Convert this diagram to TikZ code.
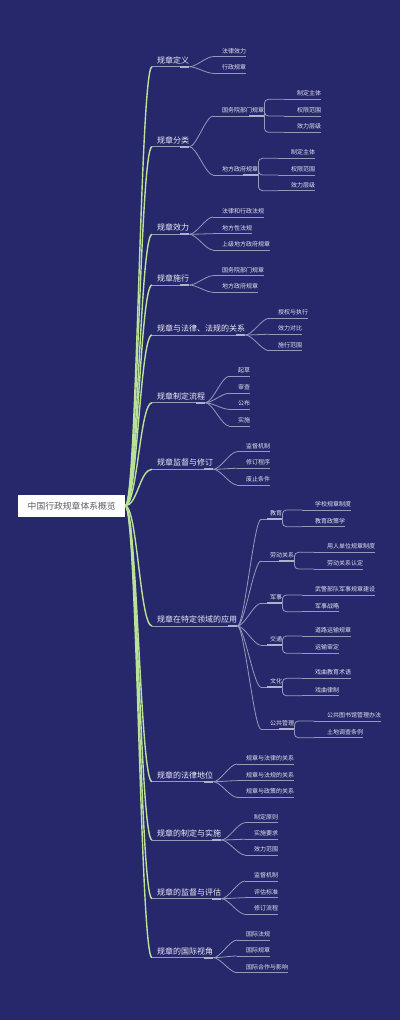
\documentclass[tikz,border=0pt]{standalone}
\usepackage{fontspec}
\setmainfont{Noto Sans CJK SC}
\definecolor{bg}{RGB}{39,40,107}
\definecolor{green1}{RGB}{185,226,152}
\definecolor{lgrey}{RGB}{150,153,188}
\definecolor{tgrey}{RGB}{175,177,200}
\definecolor{txtA}{RGB}{236,236,246}
\definecolor{txtB}{RGB}{226,226,240}
\definecolor{roottxt}{RGB}{90,90,100}
\tikzset{
  rootbox/.style={draw=none, fill=white, minimum width=106.7pt, minimum height=21.7pt, inner sep=0pt, text=roottxt, font=\fontsize{8.8}{10}\selectfont},
  lone/.style={anchor=south west, inner xsep=0pt, inner ysep=3.5pt, text depth=0pt, text=txtA, font=\fontsize{8}{9}\selectfont},
  ltwo/.style={anchor=south west, inner xsep=0pt, inner ysep=3.2pt, text depth=0pt, text=txtB, font=\fontsize{6}{7}\selectfont},
  lonelink/.style={draw=green1, line width=1.4pt},
  link/.style={draw=lgrey, line width=0.8pt},
  uline/.style={draw=lgrey, line width=0.8pt},
  thickseg/.style={draw=tgrey, line width=2pt},
}
\newcommand\Lone[3]{%
  \node[lone] (#1) at (152,#2) {\hspace{5pt}#3\hspace{9pt}};
  \draw[lonelink] (root.east) .. controls +(12,0) and +(-12,0) .. (#1.south west);
  \draw[uline] (#1.south west) -- (#1.south east);
  \draw[thickseg] ([xshift=-9pt]#1.south east) -- (#1.south east);
}
\newcommand\Ltwo[5]{%
  \node[ltwo] (#2) at (#3,#4) {\hspace{9pt}#5\hspace{1pt}};
  \draw[link] (#1.south east) .. controls +(7,0) and +(-7,0) .. (#2.south west);
  \draw[uline] (#2.south west) -- (#2.south east);
}
\newcommand\LtwoP[5]{%
  \node[ltwo] (#2) at (#3,#4) {\hspace{9pt}#5\hspace{16pt}};
  \draw[link] (#1.south east) .. controls +(7,0) and +(-7,0) .. (#2.south west);
  \draw[uline] (#2.south west) -- (#2.south east);
  \draw[thickseg] ([xshift=-15pt]#2.south east) -- (#2.south east);
}
\newcommand\Lthree[5]{%
  \node[ltwo] (#2) at (#3,#4) {\hspace{13pt}#5\hspace{1pt}};
  \draw[link, rounded corners=4pt] (#1.south east) |- (#2.south west);
  \draw[uline] (#2.south west) -- (#2.south east);
}
\begin{document}
\begin{tikzpicture}[x=1pt,y=-1pt]
\useasboundingbox (0,0) rectangle (400,1020);
\fill[bg] (0,0) rectangle (400,1020);
\node[rootbox] (root) at (71.7,505.8) {中国行政规章体系概览};

\Lone{n1}{66.7}{规章定义}
\Lone{n2}{146.7}{规章分类}
\Lone{n3}{234.3}{规章效力}
\Lone{n4}{285}{规章施行}
\Lone{n5}{335}{规章与法律、法规的关系}
\Lone{n6}{402.7}{规章制定流程}
\Lone{n7}{469.3}{规章监督与修订}
\Lone{n8}{626}{规章在特定领域的应用}
\Lone{n9}{781.7}{规章的法律地位}
\Lone{n10}{840}{规章的制定与实施}
\Lone{n11}{898.7}{规章的监督与评估}
\Lone{n12}{957.7}{规章的国际视角}

\Ltwo{n1}{n1a}{213}{56.7}{法律效力}
\Ltwo{n1}{n1b}{213}{73.3}{行政规章}

\LtwoP{n2}{n2a}{213}{116}{国务院部门规章}
\LtwoP{n2}{n2b}{213}{175}{地方政府规章}
\Lthree{n2a}{n2a1}{284}{99.3}{制定主体}
\Lthree{n2a}{n2a2}{284}{116}{权限范围}
\Lthree{n2a}{n2a3}{284}{132.3}{效力层级}
\Lthree{n2b}{n2b1}{278}{158.3}{制定主体}
\Lthree{n2b}{n2b2}{278}{175}{权限范围}
\Lthree{n2b}{n2b3}{278}{190.7}{效力层级}

\Ltwo{n3}{n3a}{213}{217}{法律和行政法规}
\Ltwo{n3}{n3b}{213}{233.7}{地方性法规}
\Ltwo{n3}{n3c}{213}{250}{上级地方政府规章}

\Ltwo{n4}{n4a}{213}{275.7}{国务院部门规章}
\Ltwo{n4}{n4b}{213}{292.3}{地方政府规章}

\Ltwo{n5}{n5a}{269}{318.3}{授权与执行}
\Ltwo{n5}{n5b}{269}{334.3}{效力对比}
\Ltwo{n5}{n5c}{269}{350.7}{施行范围}

\Ltwo{n6}{n6a}{229}{376.3}{起草}
\Ltwo{n6}{n6b}{229}{393.3}{审查}
\Ltwo{n6}{n6c}{229}{409.3}{公布}
\Ltwo{n6}{n6d}{229}{426}{实施}

\Ltwo{n7}{n7a}{237}{451.7}{监督机制}
\Ltwo{n7}{n7b}{237}{468.3}{修订程序}
\Ltwo{n7}{n7c}{237}{485}{废止条件}

\LtwoP{n8}{n8a}{261}{519.3}{教育}
\LtwoP{n8}{n8b}{261}{561}{劳动关系}
\LtwoP{n8}{n8c}{261}{603.3}{军事}
\LtwoP{n8}{n8d}{261}{645.3}{交通}
\LtwoP{n8}{n8e}{261}{687.3}{文化}
\LtwoP{n8}{n8f}{261}{729.3}{公共管理}
\Lthree{n8a}{n8a1}{302}{510}{学校规章制度}
\Lthree{n8a}{n8a2}{302}{526.7}{教育政策学}
\Lthree{n8b}{n8b1}{314}{552.3}{用人单位规章制度}
\Lthree{n8b}{n8b2}{314}{569}{劳动关系认定}
\Lthree{n8c}{n8c1}{302}{595}{武警部队军事规章建设}
\Lthree{n8c}{n8c2}{302}{611.7}{军事战略}
\Lthree{n8d}{n8d1}{302}{636}{道路运输规章}
\Lthree{n8d}{n8d2}{302}{653.3}{运输审定}
\Lthree{n8e}{n8e1}{302}{678.3}{戏曲教育术语}
\Lthree{n8e}{n8e2}{302}{695.7}{戏曲律制}
\Lthree{n8f}{n8f1}{314}{721}{公共图书馆管理办法}
\Lthree{n8f}{n8f2}{314}{737.7}{土地调查条例}

\Ltwo{n9}{n9a}{237}{764}{规章与法律的关系}
\Ltwo{n9}{n9b}{237}{780.7}{规章与法规的关系}
\Ltwo{n9}{n9c}{237}{797.3}{规章与政策的关系}

\Ltwo{n10}{n10a}{245}{822.7}{制定原则}
\Ltwo{n10}{n10b}{245}{839.3}{实施要求}
\Ltwo{n10}{n10c}{245}{855}{效力范围}

\Ltwo{n11}{n11a}{245}{881}{监督机制}
\Ltwo{n11}{n11b}{245}{897.7}{评估标准}
\Ltwo{n11}{n11c}{245}{914.3}{修订流程}

\Ltwo{n12}{n12a}{237}{940}{国际法规}
\Ltwo{n12}{n12b}{237}{956}{国际规章}
\Ltwo{n12}{n12c}{237}{972.7}{国际合作与影响}
\end{tikzpicture}
\end{document}
